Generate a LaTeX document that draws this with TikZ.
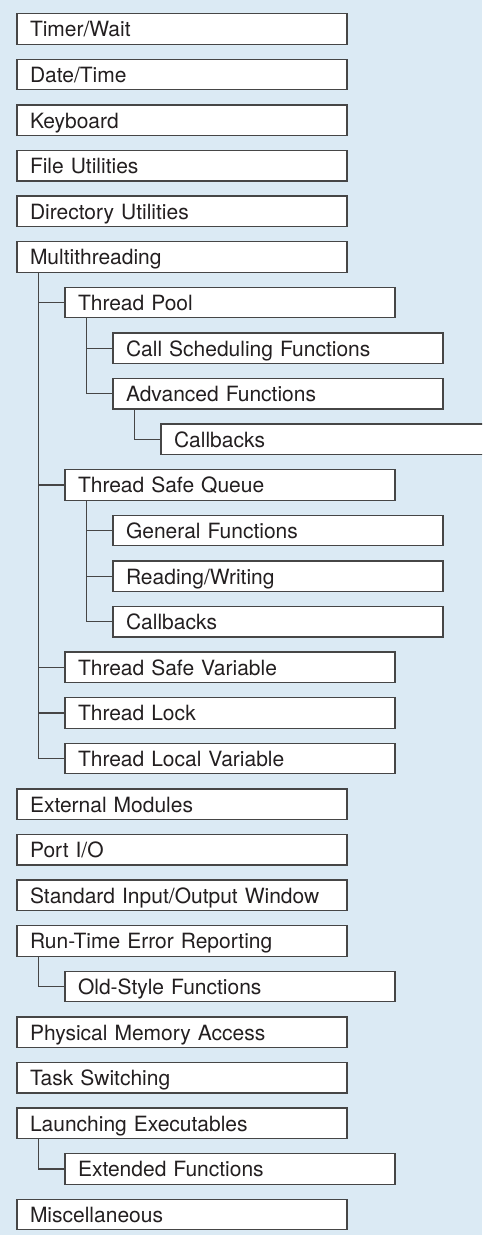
\documentclass[tikz,border=0pt]{standalone}
\usepackage{fontspec}
\setmainfont{TeX Gyre Heros}
\usepackage{tikz}
\usetikzlibrary{positioning}

\definecolor{bgblue}{RGB}{219,234,244}
\definecolor{framegray}{RGB}{70,70,70}
\definecolor{textgray}{RGB}{35,31,32}

\begin{document}
\begin{tikzpicture}[node distance=7.55pt,
            box/.style={draw=framegray,fill=white,line width=0.65pt,
              text width=152pt,inner xsep=6.5pt,inner ysep=0pt,outer sep=0pt,
              minimum height=15.25pt,text height=9.9pt,text depth=1.95pt,
              align=left,text=textgray,font=\fontsize{10.5}{12}\selectfont},
            row/.style={below=of #1,anchor=north west},
            link/.style={draw=framegray,line width=0.65pt}]
            \useasboundingbox (0,0) rectangle (241pt,-617.5pt);
            \fill[bgblue] (0,0) rectangle (241pt,-617.5pt);
            \clip (0,0) rectangle (241pt,-617.5pt);

            \node[box,anchor=north west] (tw) at (8.5pt,-6.85pt) {Timer/Wait};
            \node[box,row=tw.south west]             (dt)   {Date/Time};
            \node[box,row=dt.south west]             (kb)   {Keyboard};
            \node[box,row=kb.south west]             (fu)   {File Utilities};
            \node[box,row=fu.south west]             (du)   {Directory Utilities};
            \node[box,row=du.south west]             (mt)   {Multithreading};
            \node[box,row=mt.south west,xshift=24pt] (tp)   {Thread Pool};
            \node[box,row=tp.south west,xshift=24pt] (csf)  {Call Scheduling Functions};
            \node[box,row=csf.south west]            (af)   {Advanced Functions};
            \node[box,row=af.south west,xshift=24pt] (cba)  {Callbacks};
            \node[box,row=cba.south west,xshift=-48pt] (tsq) {Thread Safe Queue};
            \node[box,row=tsq.south west,xshift=24pt] (gf)  {General Functions};
            \node[box,row=gf.south west]             (rw)   {Reading/Writing};
            \node[box,row=rw.south west]             (cbb)  {Callbacks};
            \node[box,row=cbb.south west,xshift=-24pt] (tsv) {Thread Safe Variable};
            \node[box,row=tsv.south west]            (tl)   {Thread Lock};
            \node[box,row=tl.south west]             (tlv)  {Thread Local Variable};
            \node[box,row=tlv.south west,xshift=-24pt] (em) {External Modules};
            \node[box,row=em.south west]             (pio)  {Port I/O};
            \node[box,row=pio.south west]            (sio)  {Standard Input/Output Window};
            \node[box,row=sio.south west]            (rte)  {Run-Time Error Reporting};
            \node[box,row=rte.south west,xshift=24pt] (osf) {Old-Style Functions};
            \node[box,row=osf.south west,xshift=-24pt] (pma) {Physical Memory Access};
            \node[box,row=pma.south west]            (ts)   {Task Switching};
            \node[box,row=ts.south west]             (le)   {Launching Executables};
            \node[box,row=le.south west,xshift=24pt] (ef)   {Extended Functions};
            \node[box,row=ef.south west,xshift=-24pt] (misc) {Miscellaneous};

            % tree lines
            \foreach \c in {tp,tsq,tsv,tl,tlv}
              \path[link] ([xshift=10.85pt]mt.south west) |- (\c.west);
            \foreach \c in {csf,af}
              \path[link] ([xshift=10.85pt]tp.south west) |- (\c.west);
            \path[link] ([xshift=10.85pt]af.south west) |- (cba.west);
            \foreach \c in {gf,rw,cbb}
              \path[link] ([xshift=10.85pt]tsq.south west) |- (\c.west);
            \path[link] ([xshift=10.85pt]rte.south west) |- (osf.west);
            \path[link] ([xshift=10.85pt]le.south west) |- (ef.west);
\end{tikzpicture}
\end{document}
